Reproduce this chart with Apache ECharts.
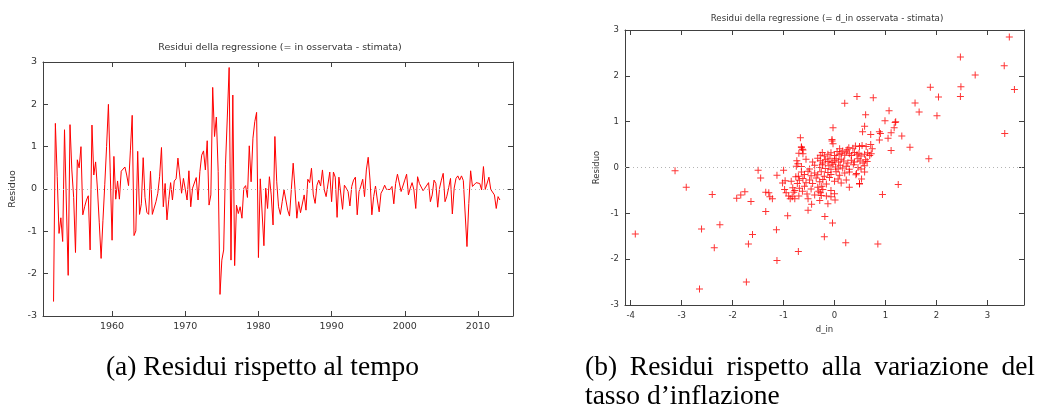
<!DOCTYPE html>
<html><head><meta charset="utf-8">
<script src="https://cdn.jsdelivr.net/npm/echarts@6/dist/echarts.min.js"></script>
<style>html,body{margin:0;padding:0;background:#fff}#c{width:1040px;height:407px}</style>
</head><body><div id="c"></div>
<script>
// ---------- data ----------
const startYear = 1952.0;          // first quarter
const quarterStep = 0.25;
const residuals = [
 -2.66, 1.55, 0.3, -1.05, -0.68, -1.24, 1.40, 1.42, -2.04, 1.52,
 0.45, -0.2, -1.50, 0.69, 0.5, 1.0, -0.61, -0.42, -0.26, -0.16,
 -1.44, 1.51, 0.33, 0.64, 0.0, -0.8, -1.64, -0.75, 0.1, 1.0,
 2.0, 0.4, -1.21, 0.77, -0.24, 0.19, -0.24, 0.42, 0.41, 0.52,
 0.33, 0.08, 0.9, 1.74, -1.10, -0.99, 0.89, -0.6, -0.35, 0.74,
 -0.2, -0.55, -0.60, 0.42, -0.60, -0.45, -0.3, -0.1, 0.3, 0.98,
 -0.42, 0.13,
 -0.73, -0.25, 0.15, -0.26, 0.19, 0.24, 0.73, 0.71, -0.10, 0.25,
 0.24, -0.26, 0.43, -0.42, 0.02, 0.06, 0.27, -0.26, 0.41, 0.80,
 0.90, 0.45, 1.14, -0.38, -0.14, 2.40, 1.24, 1.70, 0.41, -2.49,
 -1.68, -1.44, 0.57, 1.7, 2.87, -1.68, 2.22, -1.81, -0.38, -0.58,
 -0.42, -0.69, 0.02, 0.08, -0.20, 1.02, 0.17, 1.20, 1.59, 1.81,
 -1.62, 0.24, 0.25, -1.34, 0.02, -0.46, 0.29, -0.14, -0.85, 1.24,
 0.17, -0.42, -0.60, -0.30,
 -0.02, -0.26, -0.50, -0.64, 0.0, 0.61, 0.0, -0.69, -0.30, -0.56,
 -0.54, -0.14, -0.50, 0.23, 0.15, 0.49, -0.14, -0.34, 0.09, 0.21,
 0.07, 0.45, -0.02, -0.18, -0.21, 0.40, -0.30, 0.40, 0.28, -0.67,
 0.28, 0.26, -0.48, 0.09, 0.02, -0.06, -0.40, 0.06, 0.21, 0.28,
 -0.61, -0.06, 0.07, 0.23, -0.18, 0.45, 0.75, 0.21, -0.61, -0.18,
 0.07, -0.26, -0.54, -0.10, -0.02, 0.09, -0.01, 0.02, -0.01, 0.06,
 -0.35, 0.13, 0.35,
 0.33, -0.06, -0.10, 0.21, 0.35, -0.14, 0.02, 0.15, -0.02, -0.46,
 0.29, 0.13, 0.17, -0.04, 0.02, -0.01, 0.15, -0.30, -0.14, 0.21,
 0.13, -0.43, 0.02, 0.21, 0.37, -0.30, -0.17, 0.03, 0.25, -0.59,
 0.02, 0.25, 0.31, 0.21, 0.31, 0.20, 0.23, -1.36, -0.34, 0.43,
 0.06, 0.09, 0.15, 0.17, 0.13, -0.02, 0.53, -0.01, -0.04, 0.28,
 -0.01, 0.02, -0.14, -0.46, -0.18, -0.26
];
const yearTicks = [1960, 1970, 1980, 1990, 2000, 2010];
const residTicks = [-3, -2, -1, 0, 1, 2, 3];
const dInTicks = [-4, -3, -2, -1, 0, 1, 2, 3];

// scatter: d_in (x) and residual (y)
const dIn = [
 -3.91, -3.13, -2.91, -2.61, -2.65, -2.40, -2.36, -2.25, -1.92, -1.84,
 -1.76, -1.73, -1.69, -1.64, -1.61, -1.50, -1.45, -1.35, -1.35, -1.29,
 -1.27, -1.22, -1.14, -1.13, -1.13, -1.00, -1.02, -0.98, -0.97, -0.92,
 -0.87, -0.83, -0.80, -0.78, -0.82, -0.75, -0.74, -0.71, -0.71, -0.70,
 -0.67, -0.65, -0.62, -0.52,
 3.43, 2.47, 3.33, 2.76, 3.53, 1.88, 2.48, 2.04, 2.47, 0.44,
 0.76, 0.20, 1.58, 1.66, 1.07, 2.01, 0.61, -0.03, 1.20, 1.19,
 1.17, 0.99, 0.59, 0.55, 0.71, 0.88, 0.90, 1.11, 1.05, 1.32,
 3.34, 0.88, -0.05, 1.48, 1.11, 1.85, 1.25, 0.94, 0.85, 0.22,
 -0.04, -0.20, -0.19, -0.13, 0.01, -0.07, 0.29, 0.49, 0.53, 0.59,
 0.43, -0.52, -0.26, -0.31, -0.25,
 -0.65, -0.63, -0.05, -0.03, 0.10, 0.16, 0.25, 0.28, 0.36, 0.41,
 0.49, 0.54, 0.62, 0.71, 0.74,
 -0.62, -0.28, -0.24, -0.20, -0.13, -0.07, 0.00, 0.05, 0.09, 0.13,
 0.20, 0.23, 0.29, 0.33, 0.39, 0.44, 0.48, 0.52, 0.59, 0.65,
 0.69, 0.72,
 -0.56, -0.43, -0.33, -0.28, -0.23, -0.18, -0.13, -0.09, -0.05, 0.00,
 0.03, 0.08, 0.13, 0.18, 0.26, 0.33, 0.39, 0.46, 0.50, 0.56,
 0.61, 0.64,
 -0.65, -0.49, -0.39, -0.29, -0.24, -0.18, -0.11, -0.07, -0.03, 0.02,
 0.07, 0.11, 0.16, 0.23, 0.29, 0.37, 0.46, 0.52, 0.59,
 -0.65, -0.59, -0.52, -0.46, -0.39, -0.33, -0.26, -0.20, -0.13, -0.07,
 0.03, 0.10, 0.20, 0.29, 0.42,
 -0.69, -0.62, -0.56, -0.49, -0.43, -0.36, -0.29, -0.23, -0.16, -0.10,
 0.00, 0.07, 0.13, 0.23, 0.49,
 -0.69, -0.63, -0.59, -0.54, -0.46, -0.39, -0.33, -0.28, -0.23, -0.16,
 -0.07, 0.00,
 -0.29, -0.45, -0.95, -0.90, -0.85, -0.78, -0.76, -0.73, -0.72, -0.70
];
const residScatter = [
 -1.45, -0.07, -0.43, -1.34, -2.65, -0.59, -1.75, -1.25, -0.67, -0.60,
 -0.53, -2.50, -1.67, -0.74, -1.46, -0.06, -0.23, -0.96, -0.54, -0.55,
 -0.64, -0.68, -1.36, -2.03, -0.17, -0.06, -0.34, -0.48, -0.29, -1.05,
 -0.68, -0.64, -0.54, -0.68, -0.44, 0.03, 0.15, -1.83, -0.19, 0.31,
 0.65, 0.44, 0.38, -0.93,
 2.85, 2.41, 2.22, 2.02, 1.70, 1.75, 1.76, 1.54, 1.55, 1.55,
 1.52, 1.40, 1.41, 1.21, 1.24, 1.13, 1.15, 0.87, 1.00, 0.98,
 0.87, 1.02, 0.90, 0.78, 0.72, 0.78, 0.74, 0.76, 0.64, 0.69,
 0.74, 0.60, 0.58, 0.44, 0.37, 0.19, -0.37, -0.59, -1.67, -1.64,
 -1.21, -1.51, -1.07, -0.79, -0.71, -0.64, -0.43, -0.35, -0.25, -0.10,
 -0.13, -0.68, -0.61, -0.52, -0.41,
 0.45, 0.40, 0.61, 0.52, 0.41, 0.36, 0.39, 0.43, 0.42, 0.47,
 0.46, 0.48, 0.46, 0.50, 0.41,
 0.30, 0.27, 0.33, 0.25, 0.29, 0.32, 0.26, 0.35, 0.28, 0.31,
 0.27, 0.34, 0.30, 0.26, 0.33, 0.28, 0.31, 0.25, 0.29, 0.32,
 0.26, 0.30,
 0.18, 0.12, 0.20, 0.15, 0.10, 0.17, 0.13, 0.20, 0.11, 0.16,
 0.19, 0.12, 0.18, 0.14, 0.10, 0.16, 0.12, 0.19, 0.14, 0.10,
 0.17, 0.13,
 0.02, -0.03, 0.05, 0.00, 0.06, -0.02, 0.04, -0.04, 0.07, 0.01,
 -0.03, 0.05, -0.01, 0.03, -0.04, 0.06, 0.00, -0.03, 0.04,
 -0.10, -0.15, -0.08, -0.18, -0.12, -0.16, -0.09, -0.19, -0.11, -0.15,
 -0.09, -0.17, -0.12, -0.10, -0.16,
 -0.28, -0.24, -0.33, -0.27, -0.35, -0.23, -0.31, -0.26, -0.36, -0.22,
 -0.30, -0.25, -0.34, -0.27, -0.36,
 -0.45, -0.52, -0.41, -0.58, -0.47, -0.60, -0.43, -0.55, -0.48, -0.62,
 -0.50, -0.57,
 -0.72, -0.80, -0.55, -0.62, -0.30, -0.50, -0.20, -0.35, 0.08, -0.62
];

// caption texts
const captionA = '(a) Residui rispetto al tempo';
const captionBWords = ['(b)', 'Residui', 'rispetto', 'alla', 'variazione', 'del'];
const captionBLine2 = 'tasso d\u2019inflazione';

// ---------- chart ----------
const chart = echarts.init(document.getElementById('c'), null, {renderer: 'canvas'});
const FONT = 'DejaVu Sans';
const AX = '#404040';
const TXT = '#333333';
const plusSym = 'path://M3,0H4V3H7V4H4V7H3V4H0V3H3Z';
const CAPFONT = '27.5px "Liberation Serif"';

function xAx(grid, min, max, ticks, pos, fs, showLabel, name) {
  return {
    type: 'value', gridIndex: grid, position: pos, min: min, max: max,
    axisLine: {show: true, onZero: false, lineStyle: {color: AX, width: 1}},
    axisTick: {show: true, inside: true, length: 5, customValues: ticks, lineStyle: {color: AX}},
    axisLabel: {show: showLabel, customValues: ticks, fontFamily: FONT, fontSize: fs, color: TXT, margin: 6,
                formatter: v => String(v)},
    splitLine: {show: false},
    name: name || '', nameLocation: 'middle', nameGap: 18,
    nameTextStyle: {fontFamily: FONT, fontSize: fs, color: TXT}
  };
}
function yAx(grid, pos, fs, showLabel, name, gap) {
  return {
    type: 'value', gridIndex: grid, position: pos, min: -3, max: 3, interval: 1,
    axisLine: {show: true, onZero: false, lineStyle: {color: AX, width: 1}},
    axisTick: {show: true, inside: true, length: 5, lineStyle: {color: AX}},
    axisLabel: {show: showLabel, fontFamily: FONT, fontSize: fs, color: TXT, margin: 6,
                formatter: v => String(v)},
    splitLine: {show: false},
    name: name || '', nameLocation: 'middle', nameGap: gap || 25, nameRotate: 90,
    nameTextStyle: {fontFamily: FONT, fontSize: fs, color: TXT}
  };
}

const zeroLine = {
  silent: true, symbol: 'none', label: {show: false},
  lineStyle: {color: '#b4b4b4', type: [1, 3], width: 1},
  data: [{yAxis: 0}]
};

// justified caption line (b): spread words between two edges
const capBLeft = 585, capBRight = 1035;
const mctx = document.createElement('canvas').getContext('2d');
mctx.font = CAPFONT;
const wordW = captionBWords.map(w => mctx.measureText(w).width);
const gap = (capBRight - capBLeft - wordW.reduce((a, b) => a + b, 0)) / (captionBWords.length - 1);
let cx = capBLeft;
const capBGraphics = captionBWords.map((w, i) => {
  const g = {type: 'text', x: cx, y: 354, style: {text: w, font: CAPFONT, fill: '#000'}};
  cx += wordW[i] + gap;
  return g;
});
const capGraphics = [
  {type: 'text', x: 262.5, y: 354, style: {text: captionA, font: CAPFONT, fill: '#000', textAlign: 'center'}}
].concat(capBGraphics).concat([
  {type: 'text', x: 585, y: 383, style: {text: captionBLine2, font: CAPFONT, fill: '#000'}}
]);

const option = {
  animation: false,
  backgroundColor: '#fff',
  title: [
    {text: 'Residui della regressione (= in osservata - stimata)', left: 275, top: 38, textAlign: 'center',
     textStyle: {fontFamily: FONT, fontSize: 9.5, fontWeight: 'normal', color: TXT}},
    {text: 'Residui della regressione (= d_in osservata - stimata)', left: 822, top: 9, textAlign: 'center',
     textStyle: {fontFamily: FONT, fontSize: 8.7, fontWeight: 'normal', color: TXT}}
  ],
  grid: [
    {left: 43, top: 62, width: 470, height: 254, containLabel: false},
    {left: 625, top: 30, width: 399, height: 275, containLabel: false}
  ],
  xAxis: [
    xAx(0, 1950.56, 2014.79, yearTicks, 'bottom', 9.5, true),
    xAx(0, 1950.56, 2014.79, yearTicks, 'top', 9.5, false),
    xAx(1, -4.112, 3.718, dInTicks, 'bottom', 8.5, true, 'd_in'),
    xAx(1, -4.112, 3.718, dInTicks, 'top', 8.5, false)
  ],
  yAxis: [
    yAx(0, 'left', 9.5, true, 'Residuo', 25),
    yAx(0, 'right', 9.5, false),
    yAx(1, 'left', 8.5, true, 'Residuo', 24),
    yAx(1, 'right', 8.5, false)
  ],
  series: [
    {
      type: 'line', xAxisIndex: 0, yAxisIndex: 0,
      data: residuals.map((v, i) => [startYear + i * quarterStep, v]),
      showSymbol: false, symbol: 'none',
      lineStyle: {color: '#ff0000', width: 1},
      markLine: zeroLine, z: 3
    },
    {
      type: 'scatter', xAxisIndex: 2, yAxisIndex: 2,
      data: dIn.map((x, i) => [x, residScatter[i]]),
      symbol: plusSym, symbolSize: 7,
      itemStyle: {color: '#ff0000'},
      markLine: zeroLine, z: 3
    }
  ],
  graphic: capGraphics
};
chart.setOption(option);
</script>
</body></html>
